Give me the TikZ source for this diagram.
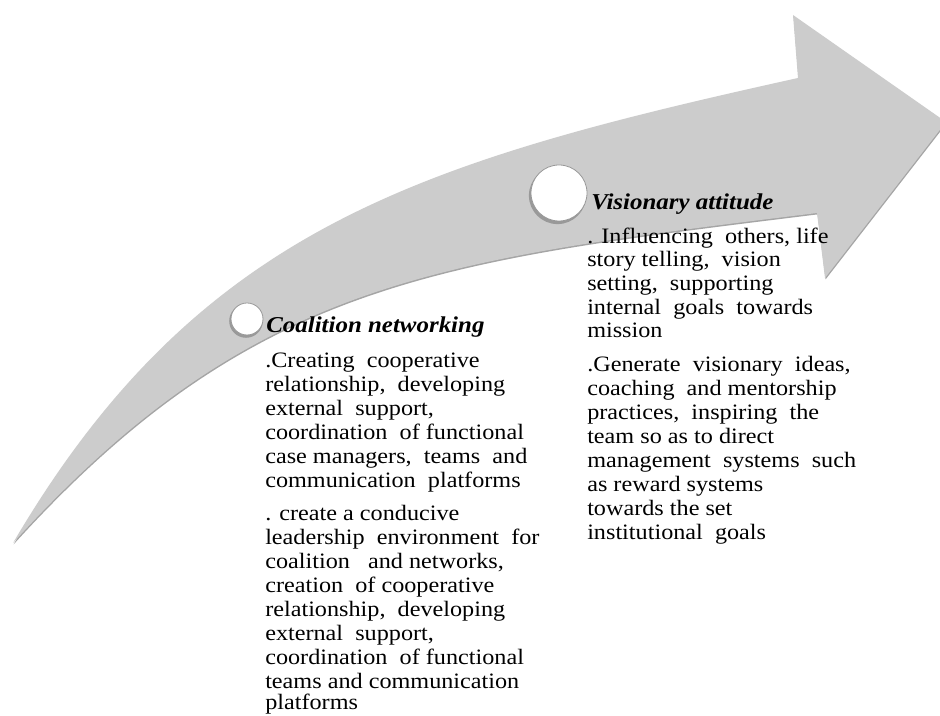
\documentclass[tikz,border=0pt]{standalone}
\usepackage{fontspec}
\setmainfont{Liberation Serif}
\usetikzlibrary{calc}
\definecolor{arrowgray}{RGB}{204,204,204}
\definecolor{shadowgray}{RGB}{165,165,165}
\newcommand{\bodyline}[1]{\scalebox{1.1}[1]{#1}}
\newcommand{\titleline}[1]{\scalebox{1.1}[1]{#1}}
\begin{document}
\begin{tikzpicture}[x=0.75pt,y=-0.75pt,
  ln/.style={anchor=base west, inner sep=0pt, font=\fontsize{16.5}{18}\selectfont},
  ttl/.style={anchor=base west, inner sep=0pt, font=\fontsize{17}{18}\selectfont\bfseries\itshape},
  dot/.style={circle, fill=white, draw=black!40, line width=0.6pt, inner sep=0pt}]
\clip (0,0) rectangle (940,716);
\fill[white] (0,0) rectangle (940,716);
\def\arrowpath{(13,543) .. controls (198,228) and (418,162) .. (798,78)
  -- (793,15) -- (946,122) -- (825,278) -- (817,213)
  .. controls (437,260) and (253,279) .. (13,543) -- cycle}
\fill[shadowgray, shift={(0.6,1.4)}] \arrowpath;
\fill[arrowgray] \arrowpath;
% circles
\fill[black!40] (246,321) circle[radius=16.8];
\node[dot, minimum size=24pt] (c1) at (247,319) {};
\fill[black!40] (557.5,195.5) circle[radius=28.6];
\node[dot, minimum size=42pt] (c2) at (559,193) {};
% column 1
\node[ttl] (t1) at (266,333) {\titleline{Coalition networking}};
\node[ln] (a1) at (265,368) {\bodyline{.Creating\ \ cooperative}};
\node[ln] (a2) at (265,392) {\bodyline{relationship,\ \ developing}};
\node[ln] (a3) at (265,416) {\bodyline{external\ \ support,}};
\node[ln] (a4) at (265,440) {\bodyline{coordination\ \ of functional}};
\node[ln] (a5) at (265,464) {\bodyline{case managers,\ \ teams\ \ and}};
\node[ln] (a6) at (265,488) {\bodyline{communication\ \ platforms}};
\node[ln] (b1) at (265,521) {\bodyline{. create a conducive}};
\node[ln] (b2) at (265,545) {\bodyline{leadership\ \ environment\ \ for}};
\node[ln] (b3) at (265,569) {\bodyline{coalition\ \ \ and networks,}};
\node[ln] (b4) at (265,593) {\bodyline{creation\ \ of cooperative}};
\node[ln] (b5) at (265,617) {\bodyline{relationship,\ \ developing}};
\node[ln] (b6) at (265,641) {\bodyline{external\ \ support,}};
\node[ln] (b7) at (265,665) {\bodyline{coordination\ \ of functional}};
\node[ln] (b8) at (265,689) {\bodyline{teams and communication}};
\node[ln] (b9) at (265,710) {\bodyline{platforms}};
% column 2
\node[ttl] (t2) at (591,210) {\titleline{Visionary attitude}};
\node[ln] (d1) at (587,244) {\bodyline{. Influencing\ \ others, life}};
\node[ln] (d2) at (587,267) {\bodyline{story telling,\ \ vision}};
\node[ln] (d3) at (587,291) {\bodyline{setting,\ \ supporting}};
\node[ln] (d4) at (587,315) {\bodyline{internal\ \ goals\ \ towards}};
\node[ln] (d5) at (587,338) {\bodyline{mission}};
\node[ln] (e1) at (587,372) {\bodyline{.Generate\ \ visionary\ \ ideas,}};
\node[ln] (e2) at (587,396) {\bodyline{coaching\ \ and mentorship}};
\node[ln] (e3) at (587,420) {\bodyline{practices,\ \ inspiring\ \ the}};
\node[ln] (e4) at (587,444) {\bodyline{team so as to direct}};
\node[ln] (e5) at (587,468) {\bodyline{management\ \ systems\ \ such}};
\node[ln] (e6) at (587,492) {\bodyline{as reward systems}};
\node[ln] (e7) at (587,516) {\bodyline{towards the set}};
\node[ln] (e8) at (587,540) {\bodyline{institutional\ \ goals}};
\end{tikzpicture}
\end{document}
